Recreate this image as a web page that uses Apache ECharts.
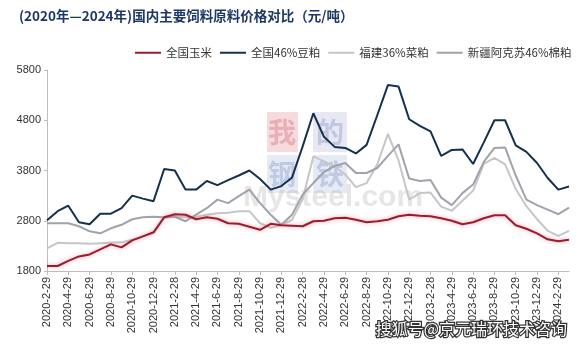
<!DOCTYPE html>
<html>
<head>
<meta charset="utf-8">
<script src="https://cdn.jsdelivr.net/npm/echarts@6/dist/echarts.min.js"></script>
<style>
  html, body { margin: 0; padding: 0; background: #ffffff; }
  #chart { width: 582px; height: 346px; }
</style>
</head>
<body>
<div id="chart"></div>
<script>
// Month-end sampling dates, 2020-02 to 2024-03
const months = [
  '2020-2-29','2020-3-29','2020-4-29','2020-5-29','2020-6-29','2020-7-29','2020-8-29','2020-9-29','2020-10-29','2020-11-29','2020-12-29',
  '2021-1-29','2021-2-28','2021-3-29','2021-4-29','2021-5-29','2021-6-29','2021-7-29','2021-8-29','2021-9-29','2021-10-29','2021-11-29','2021-12-29',
  '2022-1-29','2022-2-28','2022-3-29','2022-4-29','2022-5-29','2022-6-29','2022-7-29','2022-8-29','2022-9-29','2022-10-29','2022-11-29','2022-12-29',
  '2023-1-29','2023-2-28','2023-3-29','2023-4-29','2023-5-29','2023-6-29','2023-7-29','2023-8-29','2023-9-29','2023-10-29','2023-11-29','2023-12-29',
  '2024-1-29','2024-2-29','2024-3-29'
];

// Prices, yuan per tonne
const corn = [
  1900,1900,2000,2090,2130,2230,2330,2270,2410,2490,2570,
  2870,2930,2920,2830,2870,2840,2750,2740,2680,2620,2740,2710,
  2700,2690,2790,2800,2850,2860,2820,2770,2790,2820,2890,2920,
  2900,2890,2850,2800,2730,2770,2850,2910,2910,2710,2640,2550,
  2430,2390,2420
];
const soybeanMeal = [
  2810,2990,3100,2770,2730,2940,2940,3050,3300,3240,3190,
  3830,3800,3420,3420,3590,3510,3610,3700,3800,3630,3420,3490,
  3660,4280,4940,4470,4270,4250,4140,4310,4900,5500,5470,4820,
  4690,4580,4090,4210,4220,3930,4360,4800,4800,4300,4170,3950,
  3650,3420,3480
];
const rapeseedMeal = [
  2250,2360,2350,2350,2340,2350,2360,2370,2420,2490,2560,
  2860,2880,2870,2880,2920,2950,2960,2990,2990,2750,2660,2710,
  2820,3230,4080,3980,3880,3720,3470,3550,3920,4530,4000,3220,
  3350,3360,3080,3000,3200,3400,3930,4050,3920,3430,3090,2830,
  2600,2500,2600
];
const cottonseedMeal = [
  2750,2750,2750,2690,2590,2550,2650,2720,2830,2870,2880,
  2870,2880,2790,2920,3050,3220,3150,3290,3420,3150,2920,2720,
  2920,3320,3550,3770,3890,3950,3750,3750,3850,4090,4320,3640,
  3590,3610,3260,3110,3350,3520,3970,4250,4260,3700,3220,3110,
  3020,2930,3060
];

const seriesNames = ['全国玉米', '全国46%豆粕', '福建36%菜粕', '新疆阿克苏46%棉粕'];
const yTicks = [1800, 2800, 3800, 4800, 5800];

const FONT = '"Liberation Sans", "Noto Sans CJK SC", sans-serif';
const CJK = '"Noto Sans CJK SC", sans-serif';

const chart = echarts.init(document.getElementById('chart'), null, { renderer: 'canvas' });

function line(name, data, color, width, extra) {
  return Object.assign({
    name: name,
    type: 'line',
    data: data,
    symbol: 'none',
    smooth: false,
    lineStyle: { color: color, width: width },
    itemStyle: { color: color },
    emphasis: { disabled: true }
  }, extra || {});
}

chart.setOption({
  animation: false,
  backgroundColor: '#ffffff',
  title: {
    text: '(2020年—2024年)国内主要饲料原料价格对比（元/吨）',
    left: 14,
    top: 4,
    textStyle: { fontFamily: CJK, fontSize: 13.5, fontWeight: 'bold', color: '#1d3767' }
  },
  legend: {
    left: 130,
    top: 42,
    icon: 'rect',
    itemWidth: 26,
    itemHeight: 2,
    itemGap: 8,
    textStyle: { fontFamily: CJK, fontSize: 11.5, color: '#333333' },
    data: seriesNames
  },
  graphic: [
    // faint site watermark behind the lines
    { type: 'rect', z: -10, shape: { x: 267, y: 112, width: 31, height: 40 }, style: { fill: 'rgba(214,90,104,0.22)' } },
    { type: 'rect', z: -10, shape: { x: 313, y: 112, width: 34, height: 40 }, style: { fill: 'rgba(120,130,190,0.18)' } },
    { type: 'rect', z: -10, shape: { x: 267, y: 155, width: 31, height: 38 }, style: { fill: 'rgba(110,140,200,0.18)' } },
    { type: 'rect', z: -10, shape: { x: 313, y: 155, width: 34, height: 38 }, style: { fill: 'rgba(110,140,200,0.18)' } },
    { type: 'text', z: -9, style: { x: 282, y: 132, text: '我', align: 'center', verticalAlign: 'middle', fontFamily: CJK, fontSize: 28, fontWeight: 'bold', fill: 'rgba(200,60,80,0.28)' } },
    { type: 'text', z: -9, style: { x: 330, y: 132, text: '的', align: 'center', verticalAlign: 'middle', fontFamily: CJK, fontSize: 28, fontWeight: 'bold', fill: 'rgba(90,100,170,0.25)' } },
    { type: 'text', z: -9, style: { x: 282, y: 174, text: '钢', align: 'center', verticalAlign: 'middle', fontFamily: CJK, fontSize: 28, fontWeight: 'bold', fill: 'rgba(80,110,180,0.25)' } },
    { type: 'text', z: -9, style: { x: 330, y: 174, text: '铁', align: 'center', verticalAlign: 'middle', fontFamily: CJK, fontSize: 28, fontWeight: 'bold', fill: 'rgba(80,110,180,0.25)' } },
    { type: 'text', z: -8, style: { x: 243, y: 198, text: 'Mysteel.com', verticalAlign: 'middle', fontFamily: FONT, fontSize: 30, fontWeight: 'bold', fill: 'rgba(150,150,150,0.24)' } },
    // source credit, bottom right
    { type: 'text', z: 100, style: { x: 567, y: 329, text: '搜狐号@京元瑞环技术咨询', align: 'right', verticalAlign: 'middle', fontFamily: CJK, fontSize: 16, fill: '#ffffff', stroke: '#333333', lineWidth: 2.5 } }
  ],
  grid: { left: 47, right: 13, top: 70, bottom: 75, containLabel: false },
  xAxis: {
    type: 'category',
    data: months,
    boundaryGap: false,
    axisLine: { lineStyle: { color: '#bdbdbd', width: 1 } },
    axisTick: { show: true, interval: 1, length: 4, lineStyle: { color: '#bdbdbd' } },
    axisLabel: { interval: 1, rotate: 90, margin: 6, fontFamily: FONT, fontSize: 11, color: '#333333' },
    splitLine: { show: false }
  },
  yAxis: {
    type: 'value',
    min: 1800,
    max: 5800,
    axisLine: { show: true, lineStyle: { color: '#bdbdbd', width: 1 } },
    axisTick: { show: true, length: 3, customValues: yTicks, lineStyle: { color: '#bdbdbd' } },
    axisLabel: {
      customValues: yTicks,
      formatter: function (v) { return String(v); },
      margin: 6, fontFamily: FONT, fontSize: 11, color: '#333333'
    },
    splitLine: { show: false }
  },
  series: [
    line(seriesNames[2], rapeseedMeal, '#c6c6c6', 2),
    line(seriesNames[3], cottonseedMeal, '#9fa3ab', 2),
    line(seriesNames[0], corn, '#9c1b2d', 2, {
      lineStyle: { color: '#9c1b2d', width: 2, shadowColor: 'rgba(230,120,135,0.7)', shadowBlur: 4 }
    }),
    line(seriesNames[1], soybeanMeal, '#15304f', 2)
  ]
});
</script>
</body>
</html>
